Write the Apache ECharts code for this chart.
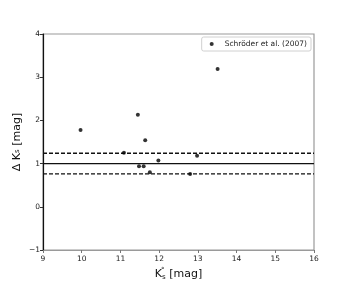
<!DOCTYPE html>
<html><head><meta charset="utf-8">
<script src="https://cdn.jsdelivr.net/npm/echarts@6/dist/echarts.min.js"></script>
<style>html,body{margin:0;padding:0;background:#fff}#c{width:349px;height:282px}</style>
</head><body><div id="c"></div>
<script>
var xs = [9.97, 11.09, 11.45, 11.48, 11.60, 11.64, 11.76, 11.98, 12.80, 12.98, 13.51];
var ys = [1.78, 1.25, 2.13, 0.94, 0.94, 1.54, 0.80, 1.07, 0.76, 1.18, 3.19];
var xRange = [9, 16];
var yRange = [-1, 4];
var meanLine = 1.0;
var upperLine = 1.24;
var lowerLine = 0.76;
var seriesName = 'Schröder et al. (2007)';

var pts = xs.map(function (x, i) { return [x, ys[i]]; });
function hline(v) { return [[xRange[0], v], [xRange[1], v]]; }
var font = 'DejaVu Sans';
var chart = echarts.init(document.getElementById('c'));
chart.setOption({
  animation: false,
  backgroundColor: '#fff',
  textStyle: { fontFamily: font },
  grid: { left: 43, right: 35, top: 34, bottom: 32, show: true, borderColor: '#9a9a9a', borderWidth: 1.2, containLabel: false, outerBoundsMode: 'none' },
  legend: {
    data: [seriesName], right: 38, top: 37, icon: 'circle', itemWidth: 4, itemHeight: 4, itemGap: 4,
    padding: [3, 4, 3, 8], borderColor: '#d0d0d0', borderWidth: 1, borderRadius: 2,
    textStyle: { fontSize: 7.5, color: '#222', fontFamily: font, padding: [0, 0, 0, 6] }
  },
  xAxis: {
    type: 'value', min: xRange[0], max: xRange[1], interval: 1,
    name: '{a|K}{b|s} [mag]', nameLocation: 'middle', nameGap: 17.5,
    nameTextStyle: { fontSize: 11, color: '#111', fontFamily: font,
      rich: { a: { fontSize: 11, fontFamily: font, color: '#111' }, b: { fontSize: 7, fontFamily: font, color: '#111', padding: [6, 0, 0, 0] } } },
    axisLine: { onZero: false, lineStyle: { color: '#9a9a9a', width: 1.2 } },
    axisTick: { length: 3, lineStyle: { color: '#777' } },
    axisLabel: { fontSize: 7.5, color: '#222', margin: 5, fontFamily: font },
    splitLine: { show: false }
  },
  yAxis: {
    type: 'value', min: yRange[0], max: yRange[1], interval: 1,
    name: 'Δ K{b|s} [mag]', nameLocation: 'middle', nameGap: 20, nameRotate: 90, nameMoveOverlap: false,
    nameTextStyle: { fontSize: 11, color: '#111', fontFamily: font,
      rich: { b: { fontSize: 7, fontFamily: font, color: '#111', padding: [0, 0, 0, 0] } } },
    axisLine: { onZero: false, lineStyle: { color: '#111', width: 1.2 } },
    axisTick: { length: 3, lineStyle: { color: '#333' } },
    axisLabel: { fontSize: 7.5, color: '#222', margin: 3, fontFamily: font,
      formatter: function (v) { return v < 0 ? '\u2212' + Math.abs(v) : String(v); } },
    splitLine: { show: false }
  },
  graphic: [{ type: 'text', left: 161, top: 266.5, style: { text: '°', fontSize: 7, fill: '#111', fontFamily: font } }],
  series: [
    { type: 'line', data: hline(meanLine), symbol: 'none', lineStyle: { color: '#111', width: 1.3 }, silent: true, z: 1 },
    { type: 'line', data: hline(upperLine), symbol: 'none', lineStyle: { color: '#111', width: 1.3, type: [4, 2] }, silent: true, z: 1 },
    { type: 'line', data: hline(lowerLine), symbol: 'none', lineStyle: { color: '#111', width: 1.3, type: [4, 2] }, silent: true, z: 1 },
    { name: seriesName, type: 'scatter', data: pts, symbolSize: 4, itemStyle: { color: '#000' }, z: 3 }
  ]
});
</script></body></html>
